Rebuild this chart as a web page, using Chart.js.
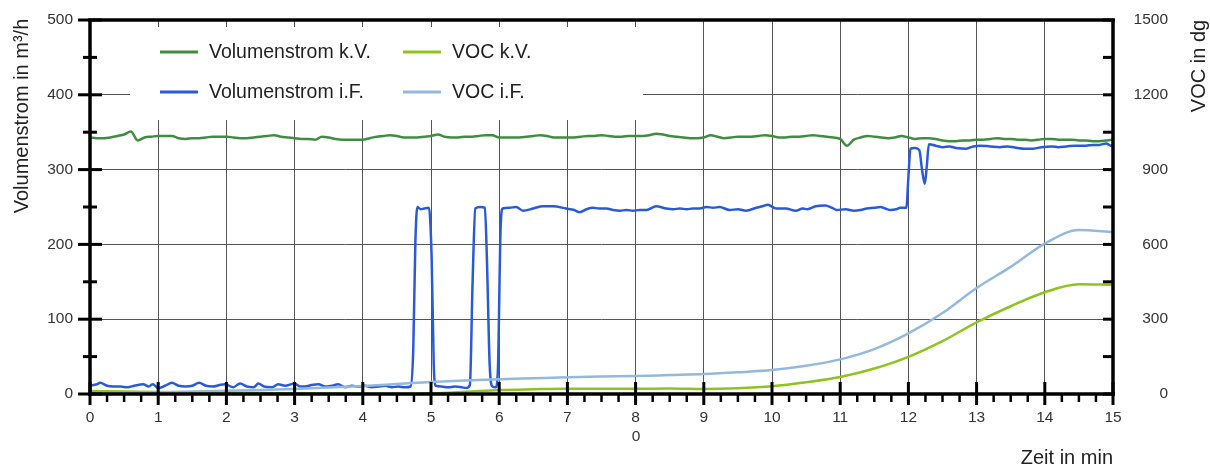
<!DOCTYPE html>
<html><head><meta charset="utf-8">
<script src="https://cdn.jsdelivr.net/npm/chart.js@4.4.1/dist/chart.umd.min.js"></script>
<style>html,body{margin:0;padding:0;background:#fff}canvas{display:block}</style>
</head><body>
<canvas id="c" width="1210" height="468"></canvas>
<script>
// ---------- data ----------
const seriesNames = ['Volumenstrom k.V.', 'VOC k.V.', 'Volumenstrom i.F.', 'VOC i.F.'];
const xAxisTitle = 'Zeit in min';
const xAxisSubLabel = '0';
const yLeftTitle = 'Volumenstrom in m³/h';
const yRightTitle = 'VOC in dg';

// Volumenstrom k.V. (m³/h), sampled every 0.1 min from 0 to 15
const flowKVStep = 0.1;
const flowKV = [
 343,342,342,343,345,347,351,339,343,344,
 345,345,345,342,341,342,342,343,344,344,
 344,343,342,342,343,344,345,346,344,343,
 342,341,341,340,344,343,341,340,340,340,
 340,342,344,345,346,345,343,343,343,344,
 345,347,344,343,343,344,344,345,346,346,
 343,343,343,343,344,345,346,345,343,343,
 343,343,344,345,345,346,345,344,344,345,
 345,345,346,348,347,345,344,343,342,342,
 343,346,344,342,343,344,344,344,345,346,
 345,343,343,344,344,345,346,345,344,343,
 341,332,340,343,345,344,343,342,343,345,
 343,341,342,342,341,339,338,338,339,339,
 340,340,341,342,341,341,340,340,339,340,
 341,341,340,340,340,339,339,338,338,339,340
];

// Volumenstrom i.F. (m³/h)
const flowIFTimes = [
 0,0.1,0.15,0.25,0.35,0.45,0.55,0.65,0.78,0.86,0.92,1.0,1.1,1.2,1.3,1.4,1.5,1.6,1.7,1.8,1.9,1.98,
 2.1,2.2,2.3,2.4,2.47,2.55,2.67,2.76,2.86,3.0,3.08,3.15,3.25,3.35,3.45,3.54,3.64,3.74,3.84,3.94,
 4.03,4.13,4.23,4.33,4.43,4.52,4.62,4.70,4.74,4.77,4.80,4.85,4.90,4.97,5.01,5.04,5.07,5.15,5.25,
 5.35,5.45,5.52,5.57,5.61,5.65,5.72,5.79,5.82,5.86,5.90,5.95,5.98,6.02,6.05,6.15,6.25,6.35,6.5,
 6.64,6.79,6.98,7.1,7.18,7.28,7.37,7.47,7.57,7.67,7.77,7.87,7.96,8.06,8.16,8.3,8.45,8.55,8.65,
 8.75,8.84,8.94,9.04,9.14,9.23,9.38,9.5,9.62,9.77,9.86,9.94,10.06,10.2,10.35,10.45,10.52,10.64,
 10.78,10.88,10.95,11.08,11.2,11.3,11.39,11.5,11.59,11.66,11.74,11.82,11.88,11.97,12.0,12.03,
 12.1,12.16,12.2,12.24,12.27,12.3,12.4,12.51,12.6,12.7,12.85,12.95,13.05,13.2,13.34,13.45,13.6,
 13.7,13.83,13.95,14.1,14.2,14.32,14.45,14.6,14.71,14.8,14.9,14.97,15.0
];
const flowIF = [
 11,13,15,11,10,10,9,11,13,10,13,8,11,15,11,10,11,15,11,10,12,13,
 9,14,10,9,14,10,9,13,11,14,10,10,12,13,10,11,13,9,11,10,
 11,9,10,11,9,10,9,10,60,200,250,247,248,249,180,40,11,10,9,
 10,9,8,12,150,248,250,249,180,40,10,9,30,220,248,249,250,245,248,
 251,251,248,246,243,247,249,248,248,246,245,246,245,246,246,251,248,247,248,
 247,248,248,250,249,250,246,247,245,249,251,253,248,248,245,248,247,251,
 252,249,246,247,245,246,248,249,250,248,246,247,249,249,290,328,
 329,326,300,281,305,334,332,330,331,329,328,331,332,331,330,331,329,
 328,328,330,331,330,331,332,332,333,333,335,332,333
];

// VOC (dg), sampled every 0.5 min from 0 to 15
const vocTimes = [0,0.5,1,1.5,2,2.5,3,3.5,4,4.5,5,5.5,6,6.5,7,7.5,8,8.5,9,9.5,10,10.5,11,11.5,12,12.5,13,13.5,14,14.5,15];
const vocKV = [12,10,8,6,5,4,3,2,1,1,3,9,16,19,21,21,21,22,20,23,31,47,68,102,149,212,287,352,408,440,438];
const vocIF = [2,4,7,10,13,16,20,26,32,40,48,54,59,63,67,70,72,76,80,87,96,113,139,180,243,325,425,510,603,658,649];

// ---------- build ----------
const FONT = '"Liberation Sans", Arial, sans-serif';
const pts = (ts, vs) => vs.map((v, i) => ({x: ts[i], y: v}));
const flowKVTimes = flowKV.map((_, i) => +(i * flowKVStep).toFixed(1));

const colors = {kvFlow:'#3f8e3f', ifFlow:'#2a5bd7', kvVoc:'#8fc31f', ifVoc:'#93b9dc'};

const data = {
  datasets: [
    {label: seriesNames[0], data: pts(flowKVTimes, flowKV), yAxisID:'y', borderColor: colors.kvFlow, order: 3},
    {label: seriesNames[1], data: pts(vocTimes, vocKV), yAxisID:'y2', borderColor: colors.kvVoc, order: 2},
    {label: seriesNames[2], data: pts(flowIFTimes, flowIF), yAxisID:'y', borderColor: colors.ifFlow, order: 4},
    {label: seriesNames[3], data: pts(vocTimes, vocIF), yAxisID:'y2', borderColor: colors.ifVoc, order: 1}
  ].map(d => Object.assign({borderWidth: 2.5, pointRadius: 0, fill: false, cubicInterpolationMode: 'monotone', tension: 0.4}, d))
};

const decor = {
  id: 'decor',
  beforeDatasetsDraw(chart) {
    const ctx = chart.ctx;
    ctx.save();
    // legend box (white, covering grid)
    ctx.fillStyle = '#fff';
    ctx.fillRect(130, 27, 513, 93);
    const ds = chart.data.datasets;
    const slots = [
      {i:0, lx:160, ly:52}, {i:1, lx:403, ly:52},
      {i:2, lx:160, ly:92}, {i:3, lx:403, ly:92}
    ];
    ctx.font = '19.5px ' + FONT;
    ctx.textBaseline = 'middle';
    ctx.textAlign = 'left';
    slots.forEach(s => {
      ctx.strokeStyle = ds[s.i].borderColor;
      ctx.lineWidth = 3;
      ctx.beginPath(); ctx.moveTo(s.lx, s.ly); ctx.lineTo(s.lx + 38, s.ly); ctx.stroke();
      ctx.fillStyle = '#222';
      ctx.fillText(ds[s.i].label, s.lx + 49, s.ly + 1);
    });
    ctx.restore();
  },
  afterDraw(chart) {
    const {ctx, chartArea: a, scales} = chart;
    const x = scales.x, y = scales.y, y2 = scales.y2;
    ctx.save();
    ctx.strokeStyle = '#000';
    ctx.lineCap = 'butt';
    const ln = (x1, y1, x2, y2_, w) => { ctx.lineWidth = w; ctx.beginPath(); ctx.moveTo(x1, y1); ctx.lineTo(x2, y2_); ctx.stroke(); };
    // frame
    ln(a.left - 2, a.top, a.right + 2, a.top, 3.5);
    ln(a.left - 2, a.bottom, a.right + 2, a.bottom, 3.5);
    ln(a.left, a.top, a.left, a.bottom + 2, 3.5);
    ln(a.right, a.top, a.right, a.bottom + 2, 3.5);
    // left axis ticks
    for (let v = 0; v <= 500; v += 50) {
      const py = y.getPixelForValue(v);
      if (v % 100 === 0) ln(a.left - 12, py, a.left + 12, py, 3);
      else ln(a.left - 7, py, a.left + 7, py, 3);
    }
    // right axis ticks
    for (let v = 0; v <= 1500; v += 150) {
      const py = y2.getPixelForValue(v);
      ln(a.right - 10, py, a.right, py, 3);
    }
    // bottom axis ticks
    for (let q = 0; q <= 60; q++) {
      const px = x.getPixelForValue(q / 4);
      if (q % 4 === 0) ln(px, a.bottom - 12, px, a.bottom + 11, 3);
      else ln(px, a.bottom, px, a.bottom + 8, 2.5);
    }
    // titles
    ctx.fillStyle = '#222';
    ctx.font = '20px ' + FONT;
    ctx.textAlign = 'center';
    ctx.textBaseline = 'middle';
    ctx.save(); ctx.translate(22, 116); ctx.rotate(-Math.PI / 2); ctx.fillText(yLeftTitle, 0, 0); ctx.restore();
    ctx.save(); ctx.translate(1199, 66); ctx.rotate(-Math.PI / 2); ctx.fillText(yRightTitle, 0, 0); ctx.restore();
    ctx.font = '15.5px ' + FONT;
    ctx.fillStyle = '#333';
    ctx.fillText(xAxisSubLabel, 636, 437);
    ctx.restore();
  }
};

const fixY = w => s => { s.width = w; s.paddingTop = 0; s.paddingBottom = 0; };

new Chart(document.getElementById('c'), {
  type: 'line',
  data,
  plugins: [decor],
  options: {
    responsive: false,
    animation: false,
    events: [],
    layout: {padding: {left: 0, right: 42, top: 20, bottom: 0}},
    plugins: {legend: {display: false}, tooltip: {enabled: false}},
    scales: {
      x: {
        type: 'linear', position: 'bottom', min: 0, max: 15,
        afterFit: s => { s.height = 74; s.paddingLeft = 0; s.paddingRight = 0; },
        ticks: {stepSize: 1, autoSkip: false, maxRotation: 0, padding: 14, color: '#333', font: {family: FONT, size: 15.5}},
        grid: {color: '#555', lineWidth: 1, drawTicks: false},
        border: {display: false},
        title: {display: true, text: xAxisTitle, align: 'end', color: '#222', font: {family: FONT, size: 20, lineHeight: 1}, padding: {top: 0, bottom: 0}}
      },
      y: {
        type: 'linear', position: 'left', min: 0, max: 500,
        afterFit: fixY(90),
        ticks: {stepSize: 100, padding: 17, color: '#333', font: {family: FONT, size: 15.5}, callback: v => String(v)},
        grid: {color: '#555', lineWidth: 1, drawTicks: false},
        border: {display: false}
      },
      y2: {
        type: 'linear', position: 'right', min: 0, max: 1500,
        afterFit: fixY(55),
        ticks: {stepSize: 300, padding: 19, crossAlign: 'far', color: '#333', font: {family: FONT, size: 15.5}, callback: v => String(v)},
        grid: {display: false, drawTicks: false},
        border: {display: false}
      }
    }
  }
});
</script>
</body></html>
